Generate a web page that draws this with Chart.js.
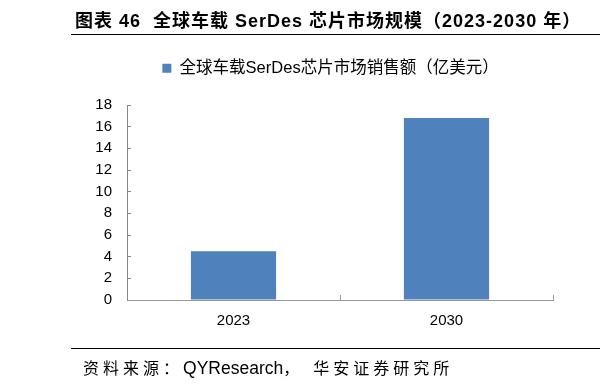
<!DOCTYPE html>
<html>
<head>
<meta charset="utf-8">
<script src="https://cdn.jsdelivr.net/npm/chart.js@4.4.0/dist/chart.umd.min.js"></script>
<style>
  body { margin:0; background:#fff; }
  #wrap { position:relative; width:600px; height:386px; overflow:hidden; }
  #chartBox { position:absolute; left:0; top:0; width:600px; height:386px; }
  .title { position:absolute; left:75px; top:6px; font-family:"Liberation Sans","Noto Sans CJK SC",sans-serif; font-size:18px; font-weight:bold; letter-spacing:1px; color:#000; white-space:nowrap; }
  .rule { position:absolute; left:71px; width:529px; height:0; border-top:1.5px solid #000; }
  .source { position:absolute; left:83px; top:355px; font-family:"Liberation Sans","Noto Sans CJK SC",sans-serif; font-size:17.5px; color:#000; white-space:nowrap; }
  .source .cn { font-size:16px; letter-spacing:4px; }
</style>
</head>
<body>
<div id="wrap">
  <div id="chartBox"><canvas id="marketChart"></canvas></div>
  <div class="title">图表 46&nbsp; 全球车载 SerDes 芯片市场规模（2023-2030 年）</div>
  <div class="rule" style="top:34px"></div>
  <div class="rule" style="top:348px"></div>
  <div class="source"><span class="cn">资料来源：</span>QYResearch<span class="cn">，</span><span class="cn" style="margin-left:10px">华安证券研究所</span></div>
</div>
<script>
var years = ['2023', '2030'];
var sales = [4.5, 16.8];
var seriesName = '全球车载SerDes芯片市场销售额（亿美元）';
var yTicks = [0, 2, 4, 6, 8, 10, 12, 14, 16, 18];

// legend gets a taller block and is nudged right over the plot
var legendTweak = {
    id: 'legendTweak',
    afterInit: function(chart){
        var lg = chart.legend;
        if (lg && !lg._wrapped) {
            var fit = lg.fit;
            lg.fit = function(){ fit.call(this); this.height = 55; };
            lg._wrapped = true;
        }
    },
    afterLayout: function(chart){
        var lg = chart.legend;
        if (lg) { lg.left += 54; lg.right += 54; }
    }
};

document.addEventListener('DOMContentLoaded', function(){
    var ctx = document.getElementById('marketChart');
    new Chart(ctx, {
        type: 'bar',
        data: {
            labels: years,
            datasets: [{ label: seriesName, data: sales, backgroundColor: '#4F81BD', borderWidth: 0, categoryPercentage: 0.4, barPercentage: 1 }]
        },
        plugins: [legendTweak],
        options: {
            responsive: true,
            maintainAspectRatio: false,
            animation: false,
            layout: { padding: { left: 0, right: 47, top: 50, bottom: 56 } },
            plugins: {
                tooltip: { enabled: false },
                legend: {
                    position: 'top',
                    labels: {
                        boxWidth: 9, boxHeight: 9, padding: 10, color: '#000',
                        font: { family: '"Liberation Sans","Noto Sans CJK SC",sans-serif', size: 16.5 }
                    }
                }
            },
            scales: {
                x: {
                    grid: { display: true, offset: true, drawOnChartArea: false, tickLength: -5, color: '#999' },
                    border: { color: '#999', width: 1 },
                    ticks: { color: '#000', padding: 17, font: { family: '"Liberation Sans",Arial,sans-serif', size: 15 } },
                    afterFit: function(s){ s.height = 30; }
                },
                y: {
                    min: 0, max: 18,
                    afterBuildTicks: function(s){ s.ticks = yTicks.map(function(v){ return { value: v }; }); },
                    grid: { drawOnChartArea: false, tickLength: -4, color: '#888' },
                    border: { color: '#888', width: 1 },
                    ticks: { color: '#000', padding: 19, font: { family: '"Liberation Sans",Arial,sans-serif', size: 15 } },
                    afterFit: function(s){ s.width = 127; }
                }
            }
        }
    });
});
</script>
</body>
</html>
